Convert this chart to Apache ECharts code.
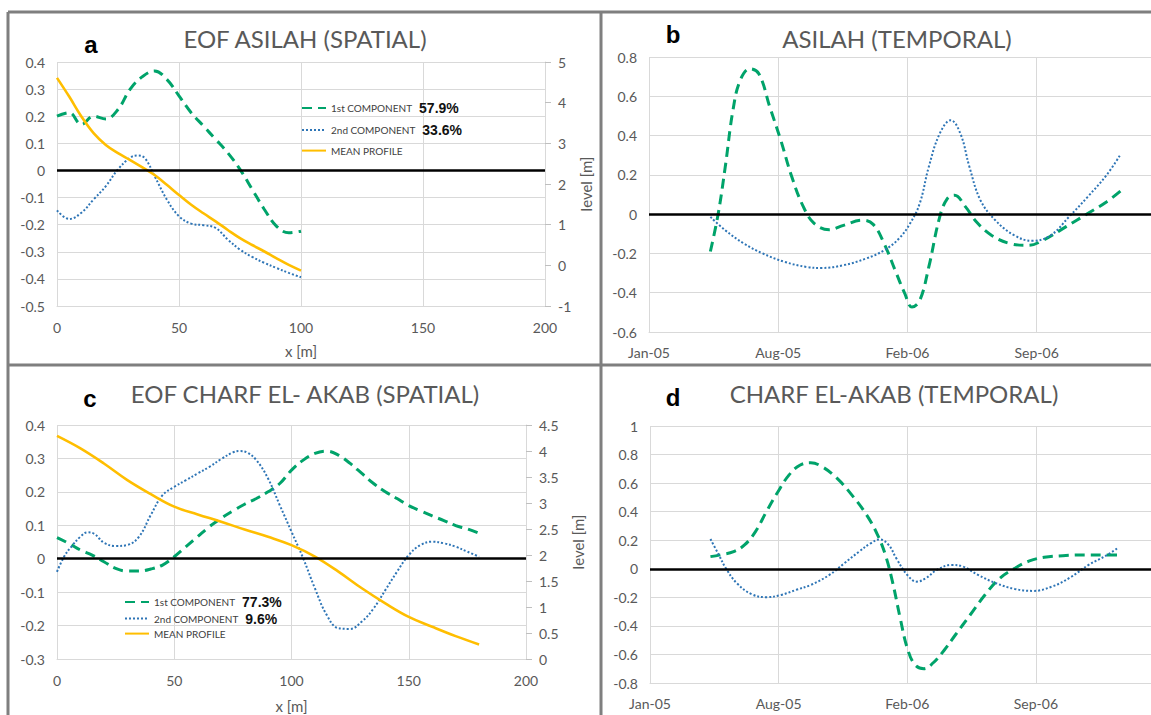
<!DOCTYPE html>
<html><head><meta charset="utf-8">
<script src="https://cdn.jsdelivr.net/npm/echarts@6/dist/echarts.min.js"></script>
<style>html,body{margin:0;padding:0;background:#fff}#c{width:1151px;height:715px}</style>
</head><body><div id="c"></div>
<script>
// ---------- DATA ----------
// Panel a: EOF ASILAH (spatial), x in metres
const aX = [0,5,10,15,20,25,30,35,40,45,50,55,60,65,70,75,80,85,90,95,100];
const aPC1 = [0.20,0.213,0.17,0.20,0.19,0.225,0.30,0.346,0.367,0.336,0.275,0.213,0.164,0.115,0.065,0.004,-0.07,-0.144,-0.206,-0.23,-0.224];
const aX2 = [0,5,10,15,20,25,30,33,36,40,45,50,55,60,65,70,75,80,85,90,95,100];
const aPC2 = [-0.147,-0.179,-0.156,-0.107,-0.058,0.004,0.047,0.055,0.045,-0.021,-0.107,-0.169,-0.196,-0.202,-0.212,-0.255,-0.292,-0.319,-0.341,-0.36,-0.378,-0.394];
const aMean = [4.61,4.15,3.66,3.25,2.96,2.76,2.59,2.41,2.22,1.98,1.73,1.49,1.28,1.08,0.87,0.67,0.50,0.34,0.17,0.01,-0.13];
const aVariance = [57.9, 33.6];

// Panel b: ASILAH (temporal), x in days since axis start
const bX1 = [95,107,118,130,141,156,170,187,204,221,239,256,279,301,330,347,364,381,396,407,419,433,450,462,473,490,507,530,559,587,610,645,679,708,730];
const bPC1 = [-0.19,0.0,0.24,0.53,0.68,0.74,0.715,0.545,0.376,0.19,0.037,-0.048,-0.079,-0.057,-0.031,-0.052,-0.15,-0.286,-0.405,-0.473,-0.44,-0.27,-0.014,0.08,0.096,0.037,-0.04,-0.107,-0.15,-0.159,-0.133,-0.065,0.003,0.062,0.118];
const bX2 = [95,118,147,176,210,244,267,301,336,364,387,404,419,433,450,467,482,496,513,536,565,593,622,650,679,708,730];
const bPC2 = [-0.014,-0.082,-0.15,-0.2,-0.243,-0.269,-0.274,-0.26,-0.226,-0.184,-0.124,-0.048,0.054,0.24,0.41,0.478,0.41,0.24,0.071,-0.031,-0.107,-0.136,-0.107,-0.014,0.088,0.198,0.305];

// Panel c: EOF CHARF EL-AKAB (spatial)
const cX = [0,5,10,15,20,25,30,35,40,45,50,55,60,65,70,75,80,85,90,95,100,105,110,115,120,125,130,135,140,145,150,155,160,165,170,175,180];
const cPC1 = [0.063,0.046,0.026,0.011,-0.009,-0.029,-0.037,-0.037,-0.031,-0.019,0.006,0.036,0.066,0.096,0.121,0.143,0.163,0.18,0.2,0.225,0.265,0.295,0.315,0.322,0.31,0.285,0.255,0.225,0.2,0.18,0.159,0.143,0.128,0.114,0.099,0.089,0.076];
const cX2 = [0,3,6,10,13,16,20,25,30,35,40,45,50,55,60,65,70,75,78,81,85,90,95,100,105,110,115,120,125,130,135,140,145,150,155,160,165,170,175,180];
const cPC2 = [-0.039,0.006,0.035,0.066,0.079,0.074,0.048,0.038,0.041,0.066,0.131,0.19,0.215,0.235,0.255,0.275,0.298,0.318,0.322,0.318,0.295,0.24,0.16,0.081,0.001,-0.089,-0.168,-0.208,-0.21,-0.188,-0.149,-0.094,-0.039,0.011,0.041,0.051,0.046,0.036,0.021,0.006];
const cXm = [0,10,20,30,40,50,60,70,80,90,100,110,120,130,140,150,160,170,180];
const cMean = [4.29,4.05,3.76,3.44,3.17,2.93,2.78,2.64,2.49,2.35,2.19,1.97,1.68,1.36,1.07,0.81,0.62,0.44,0.28];
const cVariance = [77.3, 9.6];

// Panel d: CHARF EL-AKAB (temporal)
const dX1 = [94,112,130,147,164,181,199,216,233,250,268,291,314,337,354,366,377,389,400,412,426,440,458,475,498,521,544,567,590,613,642,677,705,733];
const dPC1 = [0.085,0.10,0.12,0.167,0.26,0.40,0.54,0.656,0.725,0.742,0.714,0.633,0.516,0.376,0.236,0.097,-0.09,-0.345,-0.555,-0.672,-0.70,-0.66,-0.567,-0.462,-0.322,-0.182,-0.066,0.003,0.055,0.08,0.092,0.097,0.097,0.097];
const dX2 = [94,107,118,135,158,181,204,227,250,279,302,325,343,357,371,383,400,415,429,446,469,487,510,538,567,596,625,653,682,711,728];
const dPC2 = [0.208,0.097,0.003,-0.101,-0.178,-0.199,-0.183,-0.148,-0.113,-0.043,0.038,0.12,0.178,0.206,0.167,0.073,-0.043,-0.09,-0.066,-0.008,0.027,0.015,-0.043,-0.101,-0.141,-0.155,-0.125,-0.062,0.027,0.097,0.148];

// Tick labels
const timeTicks = ['Jan-05','Aug-05','Feb-06','Sep-06','Apr-07'];
const seriesNames = ['1st COMPONENT','2nd COMPONENT','MEAN PROFILE'];
const panelTitles = ['EOF ASILAH (SPATIAL)','ASILAH (TEMPORAL)','EOF CHARF EL- AKAB (SPATIAL)','CHARF EL-AKAB (TEMPORAL)'];
const panelLetters = ['a','b','c','d'];

// ---------- STYLE ----------
const GREEN = '#00a36a', BLUE = '#2e75b6', GOLD = '#ffbe00';
const TXT = '#595959', GRIDC = '#d9d9d9';
const FONT = 'Lato, "Open Sans", sans-serif';
const zip = (xs, ys) => xs.map((x, i) => [x, ys[i]]);
const AXL = {color: TXT, fontSize: 14, fontFamily: FONT};
const SPLIT = {show: true, lineStyle: {color: GRIDC, width: 1}};
const ZERO = {silent: true, symbol: 'none', label: {show: false}, animation: false,
  lineStyle: {color: '#000', width: 2.6, type: 'solid'}, data: [{yAxis: 0}]};

function pc1(xs, ys, xi, yi) {
  return {type: 'line', name: seriesNames[0], data: zip(xs, ys), xAxisIndex: xi, yAxisIndex: yi,
    smooth: 0.4, symbol: 'none', z: 3, itemStyle: {color: GREEN},
    lineStyle: {color: GREEN, width: 3, type: [10, 6]}};
}
function pc2(xs, ys, xi, yi) {
  return {type: 'line', name: seriesNames[1], data: zip(xs, ys), xAxisIndex: xi, yAxisIndex: yi,
    smooth: 0.4, symbol: 'none', z: 3, itemStyle: {color: BLUE},
    lineStyle: {color: BLUE, width: 2, type: [2, 2]}};
}
function mean(xs, ys, xi, yi) {
  return {type: 'line', name: seriesNames[2], data: zip(xs, ys), xAxisIndex: xi, yAxisIndex: yi,
    smooth: 0.4, symbol: 'none', z: 3, itemStyle: {color: GOLD},
    lineStyle: {color: GOLD, width: 2.6, type: 'solid'}};
}
function zeroLine(xi, yi) {
  return {type: 'line', data: [], xAxisIndex: xi, yAxisIndex: yi, symbol: 'none', z: 2, markLine: ZERO};
}
function xSpatial(gi, gap) {
  return {type: 'value', gridIndex: gi, min: 0, max: 200, interval: 50,
    name: 'x [m]', nameLocation: 'middle', nameGap: gap,
    nameTextStyle: {color: TXT, fontSize: 15, fontFamily: FONT},
    axisLine: {show: true, onZero: false, lineStyle: {color: GRIDC}}, axisTick: {show: false},
    axisLabel: Object.assign({margin: 14}, AXL), splitLine: SPLIT};
}
function xTime(gi, mx) {
  return {type: 'value', gridIndex: gi, min: 0, max: mx, interval: 200,
    axisLine: {show: true, onZero: false, lineStyle: {color: GRIDC}}, axisTick: {show: false},
    axisLabel: Object.assign({margin: 13, showMaxLabel: false,
      formatter: v => (v % 200 === 0 ? timeTicks[v / 200] : '')}, AXL),
    splitLine: SPLIT};
}
function yLeft(gi, mn, mx, iv) {
  return {type: 'value', gridIndex: gi, min: mn, max: mx, interval: iv, position: 'left',
    axisLine: {show: false}, axisTick: {show: false},
    axisLabel: Object.assign({margin: 12}, AXL), splitLine: SPLIT};
}
function yRight(gi, mn, mx, iv, gap) {
  return {type: 'value', gridIndex: gi, min: mn, max: mx, interval: iv, position: 'right',
    name: 'level [m]', nameLocation: 'middle', nameGap: gap, nameRotate: 90,
    nameTextStyle: {color: TXT, fontSize: 15, fontFamily: FONT},
    axisLine: {show: true, lineStyle: {color: GRIDC}},
    axisTick: {show: true, length: 6, lineStyle: {color: '#bfbfbf'}},
    axisLabel: Object.assign({margin: 13}, AXL), splitLine: {show: false}};
}
function legend(left, top, gap, variance) {
  return {orient: 'vertical', left: left, top: top, padding: 0, itemGap: gap,
    itemWidth: 24, itemHeight: 14, selectedMode: false, data: seriesNames,
    itemStyle: {opacity: 0},
    formatter: name => {
      const i = seriesNames.indexOf(name);
      return i < 2 ? '{n|' + name + '}{p|' + variance[i] + '%}' : '{n|' + name + '}';
    },
    textStyle: {rich: {
      n: {fontSize: 10, color: '#404040', fontFamily: FONT, lineHeight: 14, verticalAlign: 'middle'},
      p: {fontSize: 14, color: '#111', fontWeight: 'bold', lineHeight: 14, verticalAlign: 'middle',
          fontFamily: '"Liberation Sans", Arial, sans-serif', padding: [0, 0, 0, 7]}
    }}};
}

// ---------- FRAME / TITLES ----------
const BORDER = '#7f7f7f';
const frame = [
  [8, 12, 1151, 12], [8, 12, 8, 715], [601, 12, 601, 715], [8, 365, 1151, 365]
].map(p => ({type: 'line', silent: true, z: 10,
  shape: {x1: p[0], y1: p[1], x2: p[2], y2: p[3]}, style: {stroke: BORDER, lineWidth: 3}}));
const titlePos = [[305, 38], [897, 38], [305, 393], [894, 393]];
const letterPos = [[91, 44], [673, 34], [90, 398], [673, 397]];
const texts = [];
panelTitles.forEach((t, i) => texts.push({type: 'text', x: titlePos[i][0], y: titlePos[i][1], silent: true,
  style: {text: t, fill: TXT, font: '24px ' + FONT, align: 'center', verticalAlign: 'middle'}}));
panelLetters.forEach((t, i) => texts.push({type: 'text', x: letterPos[i][0], y: letterPos[i][1], silent: true,
  style: {text: t, fill: '#000', font: 'bold 24px "Liberation Sans", Arial, sans-serif', align: 'center', verticalAlign: 'middle'}}));

// ---------- CHART ----------
const chart = echarts.init(document.getElementById('c'), null, {renderer: 'svg'});
chart.setOption({
  animation: false,
  backgroundColor: '#fff',
  grid: [
    {left: 57, right: 1151 - 545, top: 62, bottom: 715 - 306},
    {left: 649, right: 0, top: 57, bottom: 715 - 332},
    {left: 57, right: 1151 - 526, top: 425, bottom: 715 - 659},
    {left: 650, right: 0, top: 426, bottom: 715 - 683}
  ],
  xAxis: [xSpatial(0, 37), xTime(1, 777), xSpatial(2, 39), xTime(3, 779)],
  yAxis: [
    yLeft(0, -0.5, 0.4, 0.1), yRight(0, -1, 5, 1, 33),
    yLeft(1, -0.6, 0.8, 0.2),
    yLeft(2, -0.3, 0.4, 0.1), yRight(2, 0, 4.5, 0.5, 44),
    yLeft(3, -0.8, 1, 0.2)
  ],
  legend: [legend(301, 101, 8, aVariance), legend(124, 595, 2.5, cVariance)],
  graphic: frame.concat(texts),
  series: [
    zeroLine(0, 0), pc1(aX, aPC1, 0, 0), pc2(aX2, aPC2, 0, 0), mean(aX, aMean, 0, 1),
    zeroLine(1, 2), pc1(bX1, bPC1, 1, 2), pc2(bX2, bPC2, 1, 2),
    zeroLine(2, 3), pc1(cX, cPC1, 2, 3), pc2(cX2, cPC2, 2, 3), mean(cXm, cMean, 2, 4),
    zeroLine(3, 5), pc1(dX1, dPC1, 3, 5), pc2(dX2, dPC2, 3, 5)
  ]
});
</script></body></html>
